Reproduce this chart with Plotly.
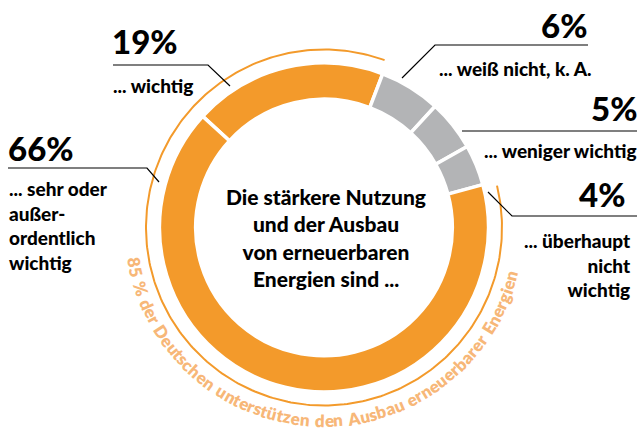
import math
import plotly.graph_objects as go

# ---------------- data ----------------
categories = ["... wichtig", "... weiß nicht, k. A.", "... weniger wichtig",
              "... überhaupt nicht wichtig", "... sehr oder außerordentlich wichtig"]
values = [19, 6, 5, 4, 66]
pct_labels = ["19%", "6%", "5%", "4%", "66%"]
supporters = 85
arc_text = "85 % der Deutschen unterstützen den Ausbau erneuerbarer Energien"
center_text = "Die stärkere Nutzung<br>und der Ausbau<br>von erneuerbaren<br>Energien sind ..."

# ---------------- style ----------------
W, H = 641, 430
ORANGE = "#F39A2B"
GRAY = "#B3B4B6"
LIGHT = "#F7B778"
FONT = "Lato"
CX, CY = 324, 227.5        # ring centre in pixels
R_PIE = 164.5
HOLE = 0.78
ROT = -47.5                # start of first slice, degrees clockwise from 12 o'clock
R_THIN = 178
R_TEXT = 193
colors = [ORANGE, GRAY, GRAY, GRAY, ORANGE]

fig = go.Figure()

fig.add_trace(go.Pie(
    values=values, labels=categories, sort=False, direction="clockwise",
    rotation=ROT, hole=HOLE, textinfo="none", hoverinfo="skip",
    marker=dict(colors=colors, line=dict(color="white", width=3.5)),
    domain=dict(x=[(CX - R_PIE) / W, (CX + R_PIE) / W],
                y=[(H - CY - R_PIE) / H, (H - CY + R_PIE) / H]),
    showlegend=False,
))

# thin arc around the orange (supporting) share
total = sum(values)
start_orange = ROT + 360 * sum(values[:4]) / total
end_orange = ROT + 360 + 360 * values[0] / total
a0, a1 = start_orange + 1.5, end_orange - 1.0
n = 300
xs, ys = [], []
for i in range(n + 1):
    p = math.radians(a0 + (a1 - a0) * i / n)
    xs.append(CX + R_THIN * math.sin(p))
    ys.append(CY - R_THIN * math.cos(p))
fig.add_trace(go.Scatter(x=xs, y=ys, mode="lines", line=dict(color=ORANGE, width=2),
                         hoverinfo="skip", showlegend=False))

# leader lines
leaders = [
    [(113, 65), (208, 65), (230, 86)],
    [(8, 168), (147, 168), (159, 182)],
    [(588, 45), (435, 45), (402, 78)],
    [(637, 131), (462, 131)],
    [(637, 216), (512, 216), (488, 192)],
]
for pts in leaders:
    fig.add_trace(go.Scatter(x=[p[0] for p in pts], y=[p[1] for p in pts], mode="lines",
                             line=dict(color="black", width=1.2), hoverinfo="skip",
                             showlegend=False))

ann = []

def add(text, x, y, size, xanchor="left", yanchor="middle", align="left", color="black",
        weight=900):
    ann.append(dict(text=text, x=x, y=y, xref="x", yref="y", showarrow=False,
                    xanchor=xanchor, yanchor=yanchor, align=align,
                    font=dict(family=FONT, size=size, color=color, weight=weight)))

BIG = 33
SM = 19
add(pct_labels[0], 110, 41, BIG)
add(categories[0], 111, 85, SM)
add(pct_labels[4], 6, 148, BIG)
add("... sehr oder<br>außer-<br>ordentlich<br>wichtig", 7, 175, SM, yanchor="top")
add(pct_labels[1], 589, 25, BIG, xanchor="right")
add(categories[1], 594, 68, SM, xanchor="right")
add(pct_labels[2], 639, 108, BIG, xanchor="right")
add(categories[2], 639, 150, SM, xanchor="right")
add(pct_labels[3], 627, 194, BIG, xanchor="right")
add("... überhaupt<br>nicht<br>wichtig", 633, 227, SM, xanchor="right", yanchor="top",
    align="right")
add(center_text, CX + 2, CY + 10, 21, xanchor="center", align="center")

# curved text along the bottom of the ring
CW = {' ': 0.30, '%': 0.80, '8': 0.58, '5': 0.58, 'a': 0.52, 'b': 0.57, 'c': 0.47,
      'd': 0.57, 'e': 0.53, 'g': 0.53, 'h': 0.57, 'i': 0.26, 'n': 0.57, 'r': 0.38,
      's': 0.43, 't': 0.37, 'u': 0.57, 'z': 0.46, 'ü': 0.57, 'D': 0.72, 'A': 0.68,
      'E': 0.56}
widths = [CW.get(c, 0.55) for c in arc_text]
tw = sum(widths)
phi_start, phi_end = 261, 103
cum = 0.0
for c, w in zip(arc_text, widths):
    mid = cum + w / 2
    cum += w
    if c == " ":
        continue
    phi = phi_start - (phi_start - phi_end) * mid / tw
    pr = math.radians(phi)
    ann.append(dict(text=c, x=CX + R_TEXT * math.sin(pr), y=CY - R_TEXT * math.cos(pr),
                    xref="x", yref="y", showarrow=False, xanchor="center", yanchor="middle",
                    textangle=phi - 180,
                    font=dict(family=FONT, size=17, color=LIGHT, weight=800)))

fig.update_layout(
    width=W, height=H, margin=dict(l=0, r=0, t=0, b=0),
    paper_bgcolor="white", plot_bgcolor="white",
    xaxis=dict(range=[0, W], visible=False, fixedrange=True),
    yaxis=dict(range=[H, 0], visible=False, fixedrange=True),
    annotations=ann, showlegend=False,
)

fig.write_html("out.html", config={"displayModeBar": False},
               post_script="document.body.style.margin='0';"
                           "document.body.style.overflow='hidden';")
